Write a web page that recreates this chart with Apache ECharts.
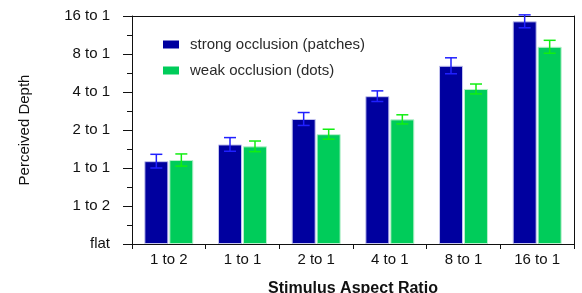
<!DOCTYPE html>
<html><head><meta charset="utf-8">
<script src="https://cdn.jsdelivr.net/npm/echarts@6/dist/echarts.min.js"></script>
<style>html,body{margin:0;padding:0;background:#fff}#c{width:582px;height:293px}</style>
</head><body><div id="c"></div>
<script>
var categories = ['1 to 2', '1 to 1', '2 to 1', '4 to 1', '8 to 1', '16 to 1'];
var yTickLabels = ['flat', '1 to 2', '1 to 1', '2 to 1', '4 to 1', '8 to 1', '16 to 1'];
var strongValues = [2.18, 2.62, 3.29, 3.89, 4.69, 5.86];
var strongErrors = [0.18, 0.18, 0.17, 0.14, 0.21, 0.17];
var weakValues = [2.21, 2.57, 2.89, 3.28, 4.08, 5.19];
var weakErrors = [0.16, 0.14, 0.13, 0.12, 0.13, 0.17];
var seriesNames = ['strong occlusion (patches)', 'weak occlusion (dots)'];

var FONT = 'Liberation Sans, Arial, sans-serif';
var BAR_W = 24, HALF = 12.5;

function errData(vals, errs) {
  return vals.map(function (v, i) { return [i, v - errs[i], v + errs[i]]; });
}
function errRender(offset, color) {
  return function (params, api) {
    var lo = api.coord([api.value(0), api.value(1)]);
    var hi = api.coord([api.value(0), api.value(2)]);
    var x = lo[0] + offset, cw = 6;
    var st = { stroke: color, lineWidth: 1.5 };
    return { type: 'group', children: [
      { type: 'line', shape: { x1: x, y1: lo[1], x2: x, y2: hi[1] }, style: st },
      { type: 'line', shape: { x1: x - cw, y1: hi[1], x2: x + cw, y2: hi[1] }, style: st },
      { type: 'line', shape: { x1: x - cw, y1: lo[1], x2: x + cw, y2: lo[1] }, style: st }
    ]};
  };
}

var chart = echarts.init(document.getElementById('c'), null, { renderer: 'canvas' });
chart.setOption({
  animation: false,
  backgroundColor: '#fff',
  textStyle: { fontFamily: FONT },
  grid: { left: 132, right: 8, top: 16, bottom: 49, containLabel: false, outerBoundsMode: 'none' },
  legend: {
    orient: 'vertical', left: 158, top: 32,
    itemWidth: 16, itemHeight: 8, itemGap: 11,
    icon: 'rect',
    data: seriesNames,
    itemStyle: { borderWidth: 0 },
    textStyle: { fontFamily: FONT, fontSize: 15, color: '#2a2a2a', padding: [0, 0, 0, 6] }
  },
  xAxis: [{
    type: 'category', data: categories, position: 'bottom',
    axisLine: { show: true, lineStyle: { color: '#111', width: 1 } },
    axisTick: { show: true, length: 5, lineStyle: { color: '#111' } },
    axisLabel: { color: '#111', fontSize: 15, margin: 8, fontFamily: FONT },
    splitLine: { show: false },
    name: 'Stimulus Aspect Ratio', nameLocation: 'middle', nameGap: 37,
    nameTextStyle: { fontSize: 16, fontWeight: 'bold', color: '#111', fontFamily: FONT }
  }, {
    type: 'category', data: categories, position: 'top',
    axisLine: { show: true, onZero: false, lineStyle: { color: '#111', width: 1 } },
    axisTick: { show: false }, axisLabel: { show: false }
  }],
  yAxis: [{
    type: 'value', min: 0, max: 6, interval: 1,
    axisLine: { show: true, lineStyle: { color: '#111', width: 1 } },
    axisTick: { show: true, length: 9, lineStyle: { color: '#111' } },
    minorTick: { show: true, splitNumber: 2, length: 5, lineStyle: { color: '#111' } },
    axisLabel: {
      color: '#111', fontSize: 15, margin: 22, fontFamily: FONT,
      formatter: function (v) { return yTickLabels[Math.round(v)]; }
    },
    splitLine: { show: false },
    name: 'Perceived Depth', nameLocation: 'middle', nameGap: 100, nameRotate: 90,
    nameTextStyle: { fontSize: 15, color: '#111', fontFamily: FONT }
  }, {
    type: 'value', min: 0, max: 6, interval: 1, position: 'right',
    axisLine: { show: true, onZero: false, lineStyle: { color: '#111', width: 1 } },
    axisTick: { show: false }, axisLabel: { show: false }, splitLine: { show: false }
  }],
  series: [{
    name: seriesNames[0], type: 'bar', data: strongValues, barWidth: BAR_W, barGap: '4%',
    itemStyle: { color: '#00009f', borderColor: '#c4c4ee', borderWidth: 1 }
  }, {
    name: seriesNames[1], type: 'bar', data: weakValues, barWidth: BAR_W, barGap: '4%',
    itemStyle: { color: '#00cc5a', borderColor: '#b8f0cc', borderWidth: 1 }
  }, {
    type: 'custom', data: errData(strongValues, strongErrors), renderItem: errRender(-HALF, '#2020ff'),
    encode: { x: 0, y: [1, 2] }, z: 5
  }, {
    type: 'custom', data: errData(weakValues, weakErrors), renderItem: errRender(HALF, '#11ee11'),
    encode: { x: 0, y: [1, 2] }, z: 5
  }]
});
</script>
</body></html>
